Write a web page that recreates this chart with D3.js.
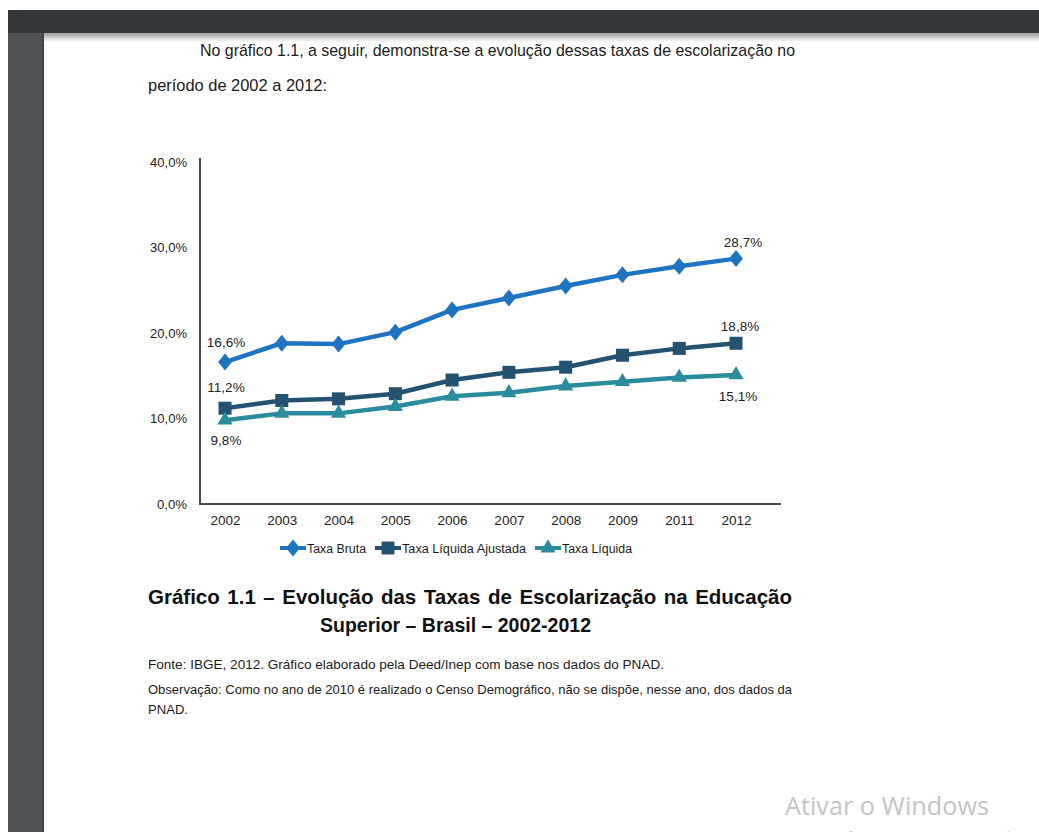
<!DOCTYPE html>
<html>
<head>
<meta charset="utf-8">
<script src="https://cdn.jsdelivr.net/npm/d3@7"></script>
<style>
  body { margin: 0; background: #fff; overflow: hidden; }
  svg { display: block; }
</style>
</head>
<body>
<div id="chart"></div>
<script>
// DADOS ******************************************************************
const years = ["2002", "2003", "2004", "2005", "2006", "2007", "2008", "2009", "2011", "2012"];
const taxaBruta = [16.6, 18.8, 18.7, 20.1, 22.7, 24.1, 25.5, 26.8, 27.8, 28.7];
const taxaLiquidaAjustada = [11.2, 12.1, 12.3, 12.9, 14.5, 15.4, 16.0, 17.4, 18.2, 18.8];
const taxaLiquida = [9.8, 10.6, 10.6, 11.4, 12.6, 13.0, 13.8, 14.3, 14.8, 15.1];
const seriesNames = ["Taxa Bruta", "Taxa Líquida Ajustada", "Taxa Líquida"];
const yTicks = [0, 10, 20, 30, 40];

// textos da pagina
const paragraph = [
  "No gráfico 1.1, a seguir, demonstra-se a evolução dessas taxas de escolarização no",
  "período de 2002 a 2012:"
];
const caption = [
  "Gráfico 1.1 – Evolução das Taxas de Escolarização na Educação",
  "Superior – Brasil – 2002-2012"
];
const notes = [
  "Fonte: IBGE, 2012. Gráfico elaborado pela Deed/Inep com base nos dados do PNAD.",
  "Observação: Como no ano de 2010 é realizado o Censo Demográfico, não se dispõe, nesse ano, dos dados da",
  "PNAD."
];

// ESTILO *****************************************************************
const colors = ["#1f74c1", "#235371", "#2a8c9d"];
// losango um pouco mais largo que o d3.symbolDiamond
const wideDiamond = {
  draw(ctx, size) {
    const h = Math.sqrt(size) * 0.85, w = h * 0.82;
    ctx.moveTo(0, -h); ctx.lineTo(w, 0); ctx.lineTo(0, h); ctx.lineTo(-w, 0); ctx.closePath();
  }
};
const symbols = [wideDiamond, d3.symbolSquare, d3.symbolTriangle];
const symbolSizes = [100, 170, 100];
const FONT = "'Liberation Sans Narrow', 'Liberation Sans', Arial, sans-serif";
const W = 1039, H = 832;

const svg = d3.select("#chart").append("svg")
  .attr("width", W).attr("height", H)
  .style("font-family", FONT);

// ajusta a largura de uma linha de texto (justificado ou comprimido)
function fit(sel, target, justify) {
  const w = sel.node().getComputedTextLength();
  const spaces = (sel.text().match(/ /g) || []).length;
  if (justify && w < target && spaces > 0) {
    sel.style("word-spacing", ((target - w) / spaces) + "px");
  } else {
    sel.attr("textLength", target).attr("lengthAdjust", "spacingAndGlyphs");
  }
}

// MOLDURA DO LEITOR ******************************************************
const defs = svg.append("defs");
const sh = defs.append("linearGradient").attr("id", "shadow").attr("x1", 0).attr("y1", 0).attr("x2", 0).attr("y2", 1);
sh.append("stop").attr("offset", "0%").attr("stop-color", "#9a9c9e");
sh.append("stop").attr("offset", "100%").attr("stop-color", "#ffffff");

svg.append("rect").attr("x", 44).attr("y", 33).attr("width", W - 44).attr("height", 9).attr("fill", "url(#shadow)");
svg.append("rect").attr("x", 8).attr("y", 10).attr("width", W - 8).attr("height", 23).attr("fill", "#34373a");
svg.append("rect").attr("x", 8).attr("y", 33).attr("width", 36).attr("height", H - 33).attr("fill", "#505356");
svg.append("rect").attr("x", 42).attr("y", 33).attr("width", 2).attr("height", H - 33).attr("fill", "#3f4244");

// PARAGRAFO **************************************************************
const p1 = svg.append("text").attr("x", 200).attr("y", 56)
  .attr("font-size", 17).attr("fill", "#1d1a1b").text(paragraph[0]);
fit(p1, 595, true);
const p2 = svg.append("text").attr("x", 148).attr("y", 91)
  .attr("font-size", 17).attr("fill", "#1d1a1b").text(paragraph[1]);
fit(p2, 179, false);

// GRAFICO ****************************************************************
const plot = { left: 200, right: 781, top: 158, bottom: 504 };

const x = d3.scalePoint().domain(years).range([225, 736]);
const y = d3.scaleLinear().domain([0, 40]).range([504, 162]);

const fmt = v => d3.format(".1f")(v).replace(".", ",") + "%";

// eixo y
const yAxis = svg.append("g")
  .attr("transform", `translate(${plot.left},0)`)
  .call(d3.axisLeft(y).tickValues(yTicks).tickSize(0).tickPadding(13).tickFormat(fmt));
yAxis.select(".domain").remove();
yAxis.selectAll("text").attr("font-size", 13).attr("fill", "#222").style("font-family", FONT)
  .each(function () { fit(d3.select(this), this.textContent.length > 4 ? 37 : 30, false); });

// eixo x
const xAxis = svg.append("g")
  .attr("transform", `translate(0,${plot.bottom})`)
  .call(d3.axisBottom(x).tickSize(0).tickPadding(11));
xAxis.select(".domain").remove();
xAxis.selectAll("text").attr("font-size", 13.5).attr("fill", "#222").style("font-family", FONT)
  .attr("font-weight", "500");

// linhas dos eixos
svg.append("path")
  .attr("d", `M${plot.left},${plot.top}V${plot.bottom}H${plot.right}`)
  .attr("fill", "none").attr("stroke", "#4d4d4d").attr("stroke-width", 2);

// series
const allSeries = [taxaBruta, taxaLiquidaAjustada, taxaLiquida];
const line = d3.line().x((d, i) => x(years[i])).y(d => y(d));

allSeries.forEach((values, s) => {
  svg.append("path")
    .datum(values)
    .attr("d", line)
    .attr("fill", "none")
    .attr("stroke", colors[s])
    .attr("stroke-width", 4.5)
    .attr("stroke-linejoin", "round");

  svg.selectAll(null)
    .data(values)
    .enter()
    .append("path")
    .attr("d", d3.symbol().type(symbols[s]).size(symbolSizes[s]))
    .attr("transform", (d, i) => `translate(${x(years[i])},${y(d)})`)
    .attr("fill", colors[s]);
});

// rotulos de dados (primeiro e ultimo ponto)
const labelOffsets = [
  [[1, -15], [7, -12]],
  [[1, -16], [4, -12]],
  [[1, 25], [2, 26]]
];
allSeries.forEach((values, s) => {
  [0, values.length - 1].forEach((i, k) => {
    svg.append("text")
      .attr("x", x(years[i]) + labelOffsets[s][k][0])
      .attr("y", y(values[i]) + labelOffsets[s][k][1])
      .attr("text-anchor", "middle")
      .attr("font-size", 13.5)
      .attr("fill", "#222")
      .text(fmt(values[i]));
  });
});

// legenda
let lx = 280;
const ly = 548;
const legendTextW = [59, 124, 70];
seriesNames.forEach((name, s) => {
  const g = svg.append("g").attr("transform", `translate(${lx},${ly})`);
  g.append("line").attr("x1", 0).attr("x2", 26).attr("stroke", colors[s]).attr("stroke-width", 4);
  g.append("path")
    .attr("d", d3.symbol().type(symbols[s]).size(symbolSizes[s]))
    .attr("transform", "translate(13,0)")
    .attr("fill", colors[s]);
  const t = g.append("text").attr("x", 27).attr("y", 4.5)
    .attr("font-size", 12.5).attr("fill", "#1d1a1b").text(name);
  fit(t, legendTextW[s], false);
  lx += 27 + legendTextW[s] + 9;
});

// LEGENDA DO GRAFICO *****************************************************
const c1 = svg.append("text").attr("x", 148).attr("y", 604)
  .attr("font-size", 20.5).attr("font-weight", "bold").attr("fill", "#111").text(caption[0]);
fit(c1, 644, true);
const c2 = svg.append("text").attr("x", 320).attr("y", 632)
  .attr("font-size", 20.5).attr("font-weight", "bold").attr("fill", "#111").text(caption[1]);
fit(c2, 271, false);

// NOTAS ******************************************************************
const noteY = [669, 694, 714];
const noteW = [516, 644, 40];
notes.forEach((n, i) => {
  const t = svg.append("text").attr("x", 148).attr("y", noteY[i])
    .attr("font-size", 13).attr("fill", "#1d1a1b").text(n);
  fit(t, noteW[i], i === 1);
});

// MARCA D'AGUA ***********************************************************
const wm = svg.append("text").attr("x", 785).attr("y", 815)
  .attr("font-size", 26).attr("fill", "#c4c4c4")
  .style("font-family", "'Open Sans', 'Noto Sans', sans-serif")
  .text("Ativar o Windows");
fit(wm, 204, false);
const wm2 = svg.append("text").attr("x", 785).attr("y", 842)
  .attr("font-size", 15).attr("fill", "#c4c4c4")
  .style("font-family", "'Open Sans', 'Noto Sans', sans-serif")
  .text("Acesse Configurações para ativar o Windows.");
fit(wm2, 250, false);
</script>
</body>
</html>
